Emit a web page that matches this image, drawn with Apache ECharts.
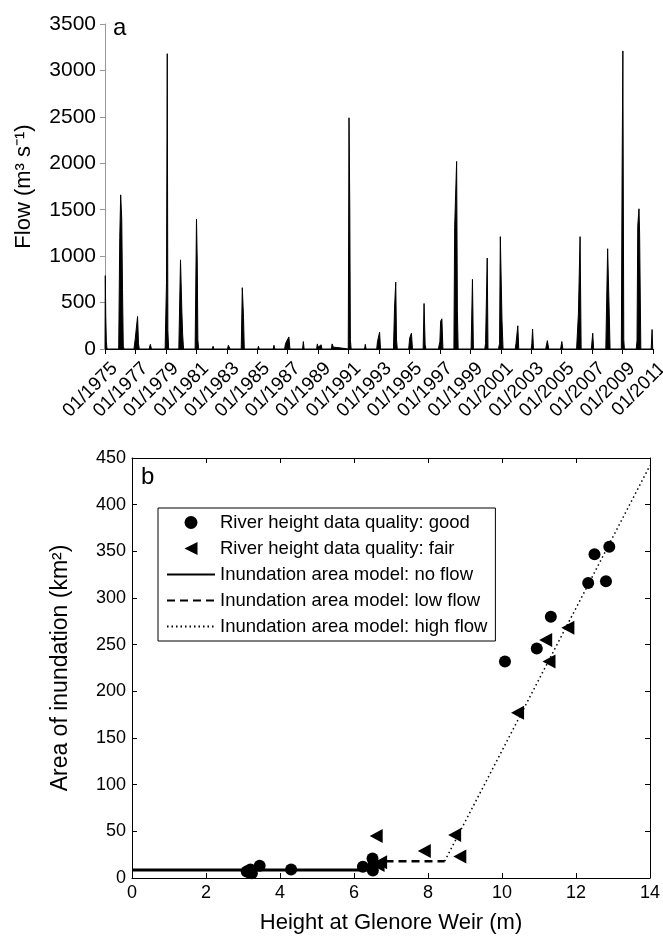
<!DOCTYPE html>
<html><head><meta charset="utf-8">
<script src="https://cdn.jsdelivr.net/npm/echarts@6/dist/echarts.min.js"></script>
<style>html,body{margin:0;padding:0;background:#fff}#c{width:663px;height:937px}</style>
</head><body><div id="c"></div><script>
// Panel a: daily flow (decimal year, m3/s)
const flowTime = [
 1975.00,1975.02,1975.05,1975.09,1975.13,
 1975.90,1975.97,1976.03,1976.10,1976.15,1976.20,1976.25,
 1976.90,1976.98,1977.05,1977.14,1977.20,1977.25,
 1977.90,1977.98,1978.05,
 1978.95,1979.04,1979.09,1979.13,1979.18,
 1979.85,1979.96,1980.05,1980.10,1980.16,
 1980.92,1981.01,1981.06,1981.10,1981.15,
 1982.05,1982.10,1982.15,
 1983.05,1983.10,1983.18,1983.22,
 1983.95,1984.02,1984.10,1984.15,
 1985.03,1985.08,1985.13,
 1986.05,1986.10,1986.15,
 1986.80,1986.86,1987.08,1987.15,
 1987.98,1988.03,1988.08,
 1988.90,1988.95,1989.00,1989.20,1989.25,
 1989.87,1989.92,1990.00,1990.10,1990.30,1990.35,
 1990.98,1991.03,1991.08,1991.12,1991.17,
 1992.05,1992.10,1992.15,
 1992.85,1992.90,1993.04,1993.10,
 1993.95,1994.02,1994.10,1994.15,1994.20,
 1994.95,1995.02,1995.13,1995.20,
 1995.90,1995.96,1996.03,1996.08,
 1996.90,1997.00,1997.05,1997.13,1997.20,
 1997.92,1997.97,1998.10,1998.15,1998.20,
 1999.05,1999.14,1999.20,
 1999.95,2000.00,2000.11,2000.16,
 2000.85,2000.92,2000.97,2001.08,2001.15,
 2001.95,2002.00,2002.12,2002.18,
 2003.00,2003.04,2003.09,2003.15,
 2003.95,2004.06,2004.15,
 2004.93,2005.01,2005.08,
 2005.98,2006.10,2006.21,2006.28,
 2006.95,2007.04,2007.10,
 2007.90,2008.02,2008.12,2008.18,
 2008.92,2008.97,2009.02,2009.08,2009.12,
 2009.90,2009.95,2010.00,2010.08,2010.12,2010.20,
 2010.88,2010.94,2010.98,2011.00
];
const flowValue = [
 0,790,350,80,0,
 0,1200,1660,1400,640,30,0,
 0,100,90,350,60,0,
 0,50,0,
 0,720,3180,200,0,
 0,960,400,160,0,
 0,1400,950,100,0,
 0,30,0,
 0,40,30,0,
 0,660,340,0,
 0,30,0,
 0,40,0,
 0,60,130,0,
 0,80,0,
 0,55,20,45,0,
 0,55,20,30,15,0,
 0,2490,1530,100,0,
 0,50,0,
 0,80,180,0,
 0,440,720,100,0,
 0,120,170,0,
 0,490,50,0,
 0,80,300,325,0,
 0,1310,2020,400,0,
 0,750,0,
 0,60,980,0,
 0,60,1210,310,0,
 0,60,250,0,
 0,60,215,0,
 0,90,0,
 0,80,0,
 0,380,1210,0,
 0,170,0,
 0,1080,420,0,
 0,1900,3210,100,0,
 0,90,1330,1510,1250,0,
 0,210,0,0
];
// Panel b: inundation area vs height
const goodHeight = [3.10,3.17,3.24,3.20,3.45,4.30,6.24,6.50,6.51,6.53,10.08,10.94,11.32,12.33,12.50,12.81,12.90];
const goodArea   = [7,6,5,9,13,9,12,21,8,15,232,246,280,316,347,318,355];
const fairHeight = [6.60,6.65,6.72,7.90,8.72,8.86,10.42,11.18,11.27,11.78];
const fairArea   = [45,14,17,29,46,23,177,255,232,268];
const noFlowHeight = [0,6.5];   const noFlowArea = [8.6,8.6];
const lowFlowHeight = [6.5,8.45]; const lowFlowArea = [18,18];
const highFlowHeight = [8.45,14]; const highFlowArea = [18,442];

const FF = '"Liberation Sans", Arial, Helvetica, sans-serif';
const zip = (a,b) => a.map((v,i)=>[v,b[i]]);
const triLeft = 'path://M0,5 L10,0 L10,10 Z';
const hiddenSym = {color:'rgba(0,0,0,0)', borderColor:'rgba(0,0,0,0)', borderWidth:0, opacity:0};

const chart = echarts.init(document.getElementById('c'), null, {renderer:'canvas'});
chart.setOption({
  animation:false,
  backgroundColor:'#fff',
  textStyle:{fontFamily:FF},
  grid:[
    {left:105, right:10, top:24, bottom:588, containLabel:false, outerBoundsMode:'none'},
    {left:132, right:13, top:458, bottom:59, containLabel:false, outerBoundsMode:'none', show:false}
  ],
  graphic:[
    {type:'text', left:113, top:16, style:{text:'a', font:'24px '+FF, fill:'#000'}},
    {type:'text', left:141, top:465, style:{text:'b', font:'24px '+FF, fill:'#000'}}
  ],
  xAxis:[
    {gridIndex:0, type:'value', min:1975, max:2011, interval:2,
     axisLine:{lineStyle:{color:'#000', width:1.2}},
     axisTick:{show:true, length:5, lineStyle:{color:'#000'}},
     splitLine:{show:false},
     axisLabel:{rotate:45, fontSize:19, color:'#000', margin:7, fontFamily:FF,
       verticalAlign:'top', padding:[4,0,0,0],
       formatter:v=>'01/'+v}},
    {gridIndex:1, type:'value', min:0, max:14, interval:2, position:'bottom',
     name:'Height at Glenore Weir (m)', nameLocation:'middle', nameGap:34,
     nameTextStyle:{fontSize:22, color:'#000', fontFamily:FF},
     axisLine:{onZero:false, lineStyle:{color:'#000'}},
     axisTick:{inside:true, length:5, lineStyle:{color:'#000'}},
     splitLine:{show:false},
     axisLabel:{fontSize:18, color:'#000', margin:6, fontFamily:FF}},
    {gridIndex:1, type:'value', min:0, max:14, interval:2, position:'top',
     axisLine:{onZero:false, lineStyle:{color:'#000'}},
     axisTick:{inside:true, length:5, lineStyle:{color:'#000'}},
     splitLine:{show:false}, axisLabel:{show:false}}
  ],
  yAxis:[
    {gridIndex:0, type:'value', min:0, max:3500, interval:500,
     name:'Flow (m³ s⁻¹)', nameLocation:'middle', nameGap:70,
     nameTextStyle:{fontSize:22, color:'#000', fontFamily:FF},
     axisLine:{show:true, lineStyle:{color:'#999'}},
     axisTick:{show:true, length:5, lineStyle:{color:'#999'}},
     splitLine:{show:false},
     axisLabel:{fontSize:21, color:'#000', margin:9, fontFamily:FF, formatter:v=>String(v)}},
    {gridIndex:1, type:'value', min:0, max:450, interval:50, position:'left',
     name:'Area of inundation (km²)', nameLocation:'middle', nameGap:60,
     nameTextStyle:{fontSize:23, color:'#000', fontFamily:FF},
     axisLine:{show:true, onZero:false, lineStyle:{color:'#000'}},
     axisTick:{show:true, inside:true, length:5, lineStyle:{color:'#000'}},
     splitLine:{show:false},
     axisLabel:{fontSize:18, color:'#000', margin:6, fontFamily:FF}},
    {gridIndex:1, type:'value', min:0, max:450, interval:50, position:'right',
     axisLine:{show:true, onZero:false, lineStyle:{color:'#000'}},
     axisTick:{show:true, inside:true, length:5, lineStyle:{color:'#000'}},
     splitLine:{show:false}, axisLabel:{show:false}}
  ],
  legend:{
    orient:'vertical', left:158, top:508, padding:[5,8,5,8],
    itemWidth:48, itemHeight:13, itemGap:7,
    borderColor:'#000', borderWidth:1, backgroundColor:'#fff',
    textStyle:{fontSize:18.5, color:'#000', fontFamily:FF},
    data:[
      {name:'River height data quality: good'},
      {name:'River height data quality: fair'},
      {name:'Inundation area model: no flow', itemStyle:hiddenSym},
      {name:'Inundation area model: low flow', itemStyle:hiddenSym},
      {name:'Inundation area model: high flow', itemStyle:hiddenSym}
    ]
  },
  series:[
    {type:'line', xAxisIndex:0, yAxisIndex:0, data:zip(flowTime,flowValue),
     symbol:'none', lineStyle:{color:'#000', width:1}, areaStyle:{color:'#000', opacity:1}, silent:true},
    {name:'Inundation area model: no flow', type:'line', xAxisIndex:1, yAxisIndex:1,
     data:zip(noFlowHeight,noFlowArea), symbol:'none', z:2,
     lineStyle:{color:'#000', width:3, type:'solid'}, itemStyle:hiddenSym},
    {name:'Inundation area model: low flow', type:'line', xAxisIndex:1, yAxisIndex:1,
     data:zip(lowFlowHeight,lowFlowArea), symbol:'none', z:2,
     lineStyle:{color:'#000', width:2.5, type:[8,5]}, itemStyle:hiddenSym},
    {name:'Inundation area model: high flow', type:'line', xAxisIndex:1, yAxisIndex:1,
     data:zip(highFlowHeight,highFlowArea), symbol:'none', z:2,
     lineStyle:{color:'#000', width:1.5, type:[1.5,3]}, itemStyle:hiddenSym},
    {name:'River height data quality: good', type:'scatter', xAxisIndex:1, yAxisIndex:1,
     data:zip(goodHeight,goodArea), symbol:'circle', symbolSize:12, z:5,
     itemStyle:{color:'#000', opacity:1}},
    {name:'River height data quality: fair', type:'scatter', xAxisIndex:1, yAxisIndex:1,
     data:zip(fairHeight,fairArea), symbol:triLeft, symbolSize:[13,14], z:5,
     itemStyle:{color:'#000', opacity:1}}
  ]
});
</script></body></html>
